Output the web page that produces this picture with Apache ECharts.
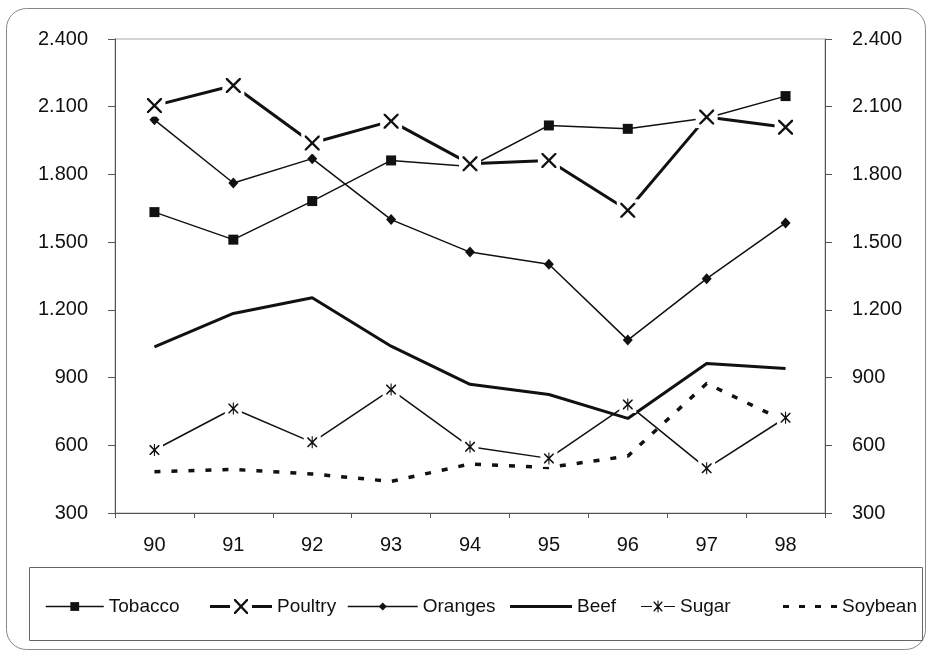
<!DOCTYPE html>
<html>
<head>
<meta charset="utf-8">
<script src="https://cdn.jsdelivr.net/npm/echarts@6/dist/echarts.min.js"></script>
<style>
  html, body { margin: 0; padding: 0; background: #fff; }
  #chart { width: 932px; height: 656px; }
</style>
</head>
<body>
<div id="chart"></div>
<script>
// Commodity values by year (thousands)
const years   = ['90', '91', '92', '93', '94', '95', '96', '97', '98'];
const tobacco = [1633, 1511, 1682, 1862, 1835, 2017, 2002, 2050, 2147];
const poultry = [2105, 2194, 1939, 2036, 1847, 1862, 1641, 2054, 2009];
const oranges = [2042, 1762, 1870, 1600, 1456, 1402, 1066, 1338, 1585];
const beef    = [1036, 1184, 1254, 1039,  870,  825,  719,  962,  940];
const sugar   = [ 579,  763,  613,  847,  593,  542,  781,  498,  722];
const soybean = [ 483,  493,  473,  440,  517,  502,  552,  874,  706];

// Value axis range and step
const yMin = 300, yMax = 2400, yStep = 300;

const FONT = "'Liberation Sans', Arial, sans-serif";
const INK = '#111';

// Thin diagonal cross as a filled outline inside a box
const CROSS_PTS = [[0,0],[1.1,0],[5,3.9],[8.9,0],[10,0],[10,1.1],[6.1,5],[10,8.9],[10,10],
                   [8.9,10],[5,6.1],[1.1,10],[0,10],[0,8.9],[3.9,5],[0,1.1]];
function crossOutline(x0, y0, w, h) {
  return 'M' + CROSS_PTS.map(p => (x0 + p[0] * w / 10).toFixed(2) + ',' + (y0 + p[1] * h / 10).toFixed(2)).join(' L') + ' Z';
}
function bar(x0, y0, w, h) {
  return 'M' + x0 + ',' + y0 + ' h' + w + ' v' + h + ' h' + (-w) + ' Z';
}

// Marker shapes
const crossPath = 'path://' + crossOutline(0, 0, 10, 10);
const starPath  = 'path://' + crossOutline(0, 1, 10, 10) + ' ' + bar(4.45, 0, 1.1, 12);

// Legend keys
const poultryKey = 'path://' + bar(0, 6, 20, 3) + ' ' + crossOutline(24, 0, 14, 15) + ' ' + bar(42, 6, 20, 3);
const sugarKey   = 'path://' + bar(0, 5.4, 11, 1.2) + ' ' + crossOutline(12.5, 1, 9, 10) + ' ' + bar(16.45, 0, 1.1, 12) + ' ' + bar(23, 5.4, 11, 1.2);
const solidKey   = 'path://' + bar(0, 0, 62, 3);
const dashKey    = 'path://' + bar(0, 0, 6, 3) + ' ' + bar(16, 0, 6, 3) + ' ' + bar(32, 0, 6, 3) + ' ' + bar(48, 0, 6, 3);

// Thousands separator written as a dot
function fmt(v) {
  const s = String(v);
  return s.length > 3 ? s.slice(0, s.length - 3) + '.' + s.slice(-3) : s;
}

// Pair each value with its year for the overlay series
function pairs(values) {
  return values.map((v, i) => [years[i], v]);
}

const chart = echarts.init(document.getElementById('chart'), null, { renderer: 'canvas' });

function lineSeries(name, data, width, symbol, size, extra) {
  return Object.assign({
    name: name,
    type: 'line',
    data: data,
    z: 2,
    symbol: symbol,
    symbolSize: size,
    symbolKeepAspect: true,
    showSymbol: symbol !== 'none',
    lineStyle: { color: INK, width: width },
    itemStyle: { color: INK },
    emphasis: { disabled: true }
  }, extra || {});
}

// White backing square behind each cross/star mark, drawn above all lines
function haloSeries(values, size) {
  return {
    type: 'scatter', z: 5, silent: true,
    data: pairs(values),
    symbol: 'rect', symbolSize: size,
    itemStyle: { color: '#fff', opacity: 1 },
    emphasis: { disabled: true }
  };
}
// The marks themselves, on top of the white backing
function markSeries(values, symbol, size) {
  return {
    type: 'scatter', z: 6, silent: true,
    data: pairs(values),
    symbol: symbol, symbolSize: size, symbolKeepAspect: true,
    itemStyle: { color: INK, opacity: 1 },
    emphasis: { disabled: true }
  };
}

// One legend entry per component so every key can have its own length
const LEGEND_TOP = 592;
function legendAt(name, left, iconWidth, iconHeight, lineWidth, icon) {
  const item = { name: name };
  if (icon) item.icon = icon;
  return {
    data: [item],
    left: left,
    top: LEGEND_TOP,
    itemWidth: iconWidth,
    itemHeight: iconHeight,
    selectedMode: false,
    lineStyle: { width: lineWidth, color: INK },
    itemStyle: { color: INK },
    textStyle: { fontFamily: FONT, fontSize: 19, color: INK }
  };
}

const yAxisBase = {
  type: 'value',
  min: yMin, max: yMax, interval: yStep,
  splitLine: { show: false },
  axisLine: { show: true, lineStyle: { color: '#555', width: 1 } },
  axisTick: { show: true, length: 7, lineStyle: { color: '#555' } },
  axisLabel: { formatter: fmt, fontFamily: FONT, fontSize: 20, color: INK, margin: 27 }
};

chart.setOption({
  animation: false,
  backgroundColor: '#fff',
  grid: {
    left: 115, right: 107, top: 39, bottom: 143,
    show: true, borderColor: '#aaa', borderWidth: 1
  },
  xAxis: {
    type: 'category',
    data: years,
    boundaryGap: true,
    axisLine: { lineStyle: { color: '#555', width: 1 } },
    axisTick: { show: true, length: 5, lineStyle: { color: '#555' } },
    axisLabel: { fontFamily: FONT, fontSize: 20, color: INK, margin: 22 }
  },
  yAxis: [
    Object.assign({}, yAxisBase, { position: 'left' }),
    Object.assign({}, yAxisBase, { position: 'right' })
  ],
  legend: [
    legendAt('Tobacco', 40, 58, 11, 1.5),
    legendAt('Poultry', 205, 62, 15, 3, poultryKey),
    legendAt('Oranges', 342, 70, 10, 1.5),
    legendAt('Beef', 505, 62, 3, 3, solidKey),
    legendAt('Sugar', 636, 34, 12, 1.5, sugarKey),
    legendAt('Soybean', 778, 54, 3, 3, dashKey)
  ],
  graphic: [
    {
      type: 'rect', silent: true, z: -1,
      shape: { x: 6.5, y: 8.5, width: 919, height: 641, r: 20 },
      style: { fill: 'none', stroke: '#888', lineWidth: 1 }
    },
    {
      type: 'rect', silent: true,
      shape: { x: 29.5, y: 567.5, width: 893, height: 73 },
      style: { fill: 'none', stroke: '#666', lineWidth: 1 }
    }
  ],
  series: [
    lineSeries('Tobacco', tobacco, 1.5, 'rect', 10),
    lineSeries('Poultry', poultry, 3, crossPath, 15),
    lineSeries('Oranges', oranges, 1.5, 'diamond', [10, 11]),
    lineSeries('Beef', beef, 3, 'none', 0),
    lineSeries('Sugar', sugar, 1.5, starPath, 12),
    lineSeries('Soybean', soybean, 3.5, 'none', 0, {
      lineStyle: { color: INK, width: 3.5, type: [6, 11], cap: 'butt' }
    }),
    haloSeries(poultry, 22),
    markSeries(poultry, crossPath, 15),
    haloSeries(sugar, 17),
    markSeries(sugar, starPath, 12)
  ]
});
</script>
</body>
</html>
